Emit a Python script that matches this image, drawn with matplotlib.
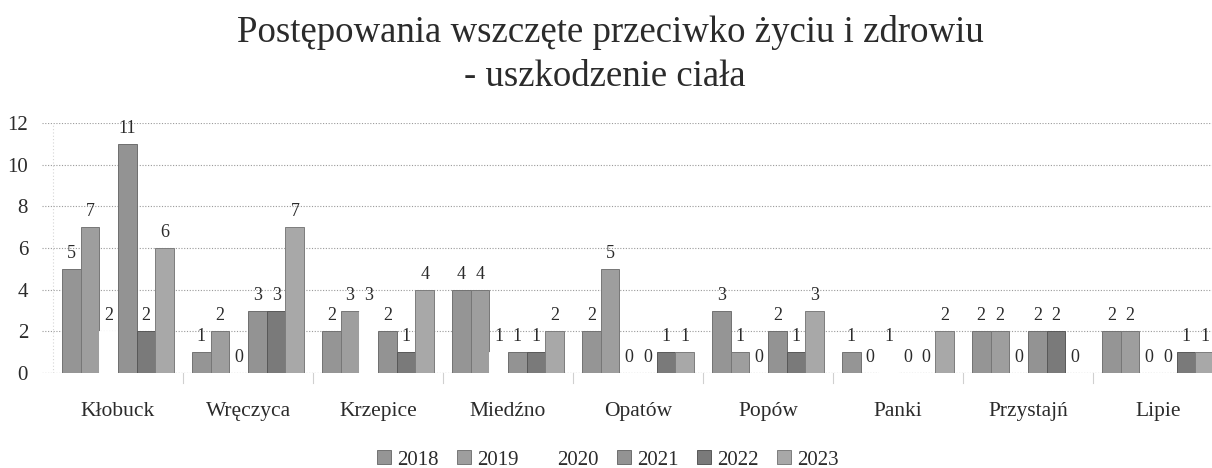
import matplotlib
matplotlib.use("Agg")
import matplotlib.pyplot as plt
import numpy as np

plt.rcParams['font.family'] = ['Liberation Serif', 'DejaVu Serif']

# dane
gminy = ['Kłobuck', 'Wręczyca', 'Krzepice', 'Miedźno', 'Opatów', 'Popów', 'Panki', 'Przystajń', 'Lipie']
lata = ['2018', '2019', '2020', '2021', '2022', '2023']
v2018 = [5, 1, 2, 4, 2, 3, 1, 2, 2]
v2019 = [7, 2, 3, 4, 5, 1, 0, 2, 2]
v2020 = [2, 0, 3, 1, 0, 0, 1, 0, 0]
v2021 = [11, 3, 2, 1, 0, 2, 0, 2, 0]
v2022 = [2, 3, 1, 1, 1, 1, 0, 2, 1]
v2023 = [6, 7, 4, 2, 1, 3, 2, 0, 1]
wartosci = [v2018, v2019, v2020, v2021, v2022, v2023]
kolory = ['#959595', '#9e9e9e', '#ffffff', '#939393', '#7a7a7a', '#a8a8a8']
krawedzie = ['#727272', '#777777', '#ffffff', '#6e6e6e', '#585858', '#7d7d7d']

tekst = '#2b2b2b'
W, H = 1212, 468
fig = plt.figure(figsize=(W / 100, H / 100), dpi=100)
ax = fig.add_axes([42 / W, 95 / H, 1170 / W, 250 / H])

x = np.arange(len(gminy))
bw = 0.144
for i, (rok, vals) in enumerate(zip(lata, wartosci)):
    pos = x + (i - 2.5) * bw
    bars = ax.bar(pos, vals, bw, color=kolory[i], edgecolor=krawedzie[i],
                  linewidth=0.7, label=rok, zorder=3)
    for b, v in zip(bars, vals):
        ax.annotate(str(v), (b.get_x() + b.get_width() / 2, v),
                    xytext=(0, 5), textcoords='offset points',
                    ha='center', va='bottom', fontsize=13, color=tekst)

ax.set_xlim(-0.585, 8.415)
ax.set_ylim(0, 12)
ax.set_yticks(range(0, 13, 2))
ax.set_xticks(x)
ax.set_xticklabels(gminy)
ax.tick_params(axis='x', length=0, pad=21, labelsize=15.5, colors=tekst)
ax.tick_params(axis='y', length=0, pad=10, labelsize=15, colors=tekst)
ax.yaxis.grid(True, linestyle=(0, (1, 1.5)), color='#9a9a9a', linewidth=0.8, zorder=0)
for s in ax.spines.values():
    s.set_visible(False)
ax.axhline(0, color='#999999', linestyle=(0, (1, 1.5)), linewidth=0.8, zorder=2)
ax.axvline(-0.5, color='#d5d5d5', linestyle=(0, (1, 2)), linewidth=0.8, zorder=1)
for g in x[:-1] + 0.5:
    ax.plot([g, g], [0, -0.5], color='#d0d0d0', linewidth=0.8, clip_on=False)

fig.text(610 / W, 1 - 42 / H, 'Postępowania wszczęte przeciwko życiu i zdrowiu',
         ha='center', va='baseline', fontsize=26.5, color=tekst)
fig.text(605 / W, 1 - 86 / H, '- uszkodzenie ciała',
         ha='center', va='baseline', fontsize=26.5, color=tekst)

leg = fig.legend(loc='center', bbox_to_anchor=(608 / W, 1 - 460 / H), ncol=6,
                 frameon=False, fontsize=15, handlelength=0.65, handleheight=0.65,
                 handletextpad=0.3, columnspacing=0.9, borderpad=0.1)
for t in leg.get_texts():
    t.set_color(tekst)

fig.savefig('out.png', dpi=100)
